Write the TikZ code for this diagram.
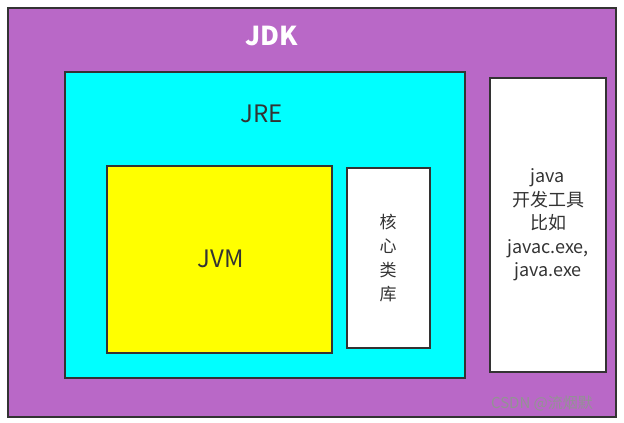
\documentclass[tikz,border=0pt]{standalone}
\usepackage{fontspec}
\setmainfont{Noto Sans CJK SC}
\definecolor{jdk}{HTML}{B968C7}
\definecolor{edge}{HTML}{333333}
\definecolor{cy}{HTML}{00FFFF}
\definecolor{ye}{HTML}{FFFF00}
\begin{document}
\begin{tikzpicture}[x=1pt,y=-1pt,
  box/.style={draw=edge,line width=1.2pt},
  lbl/.style={text=edge,align=center,inner sep=0pt}]
\useasboundingbox (0,0) rectangle (624,423);
\fill[white] (0,0) rectangle (624,423);
\draw[box,fill=jdk] (8,8) rectangle (616,417);
\node[text=white,font=\bfseries\fontsize{26}{30}\selectfont] (jdk) at (272,36) {JDK};
\draw[box,fill=cy] (65,72) rectangle (465,378);
\node[lbl,font=\fontsize{24}{28}\selectfont] (jre) at (262,114) {JRE};
\draw[box,fill=ye] (107,166) rectangle (332,353);
\node[lbl,font=\fontsize{24}{28}\selectfont] (jvm) at (221,259) {JVM};
\draw[box,fill=white] (347,168) rectangle (430,348);
\node[lbl,font=\fontsize{17}{24}\selectfont] (core) at (388,258) {核\\心\\类\\库};
\draw[box,fill=white] (490,78) rectangle (606,372);
\node[lbl,font=\fontsize{18}{23.5}\selectfont] (tools) at (548,225) {java\\开发工具\\比如\\javac.exe,\\java.exe};
\node[text=gray!85,font=\fontsize{15}{17}\selectfont,inner sep=0pt] (wm) at (542,403) {CSDN @流烟默};
\end{tikzpicture}
\end{document}
